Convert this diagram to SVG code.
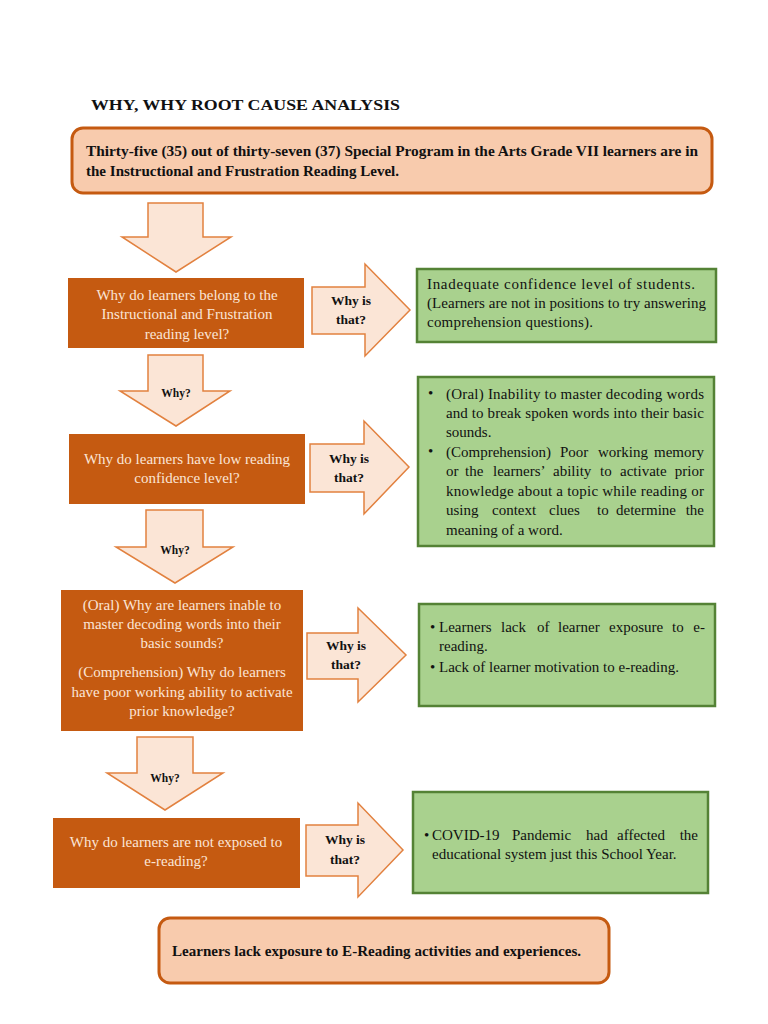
<svg xmlns="http://www.w3.org/2000/svg" width="768" height="1024" viewBox="0 0 768 1024">
<defs>
<style>
.title{font-family:"Liberation Serif","Times New Roman",serif;font-weight:bold;font-size:15px;fill:#111}
.top{fill:#F8CBAD;stroke:#C55A11;stroke-width:3}
.topt{font-family:"Liberation Serif","Times New Roman",serif;font-weight:bold;font-size:14.5px;fill:#111}
.botT{font-family:"Liberation Serif","Times New Roman",serif;font-weight:bold;font-size:14px;fill:#111}
.q{fill:#C55A11}
.qt{font-family:"Liberation Serif","Times New Roman",serif;font-size:15px;fill:#FBE5D6;text-anchor:middle}
.arr{fill:#FBE5D6;stroke:#E2813F;stroke-width:1.5;stroke-linejoin:miter}
.at{font-family:"Liberation Serif","Times New Roman",serif;font-weight:bold;font-size:13.5px;fill:#111;text-anchor:middle}
.wt{font-family:"Liberation Serif","Times New Roman",serif;font-weight:bold;font-size:11.5px;fill:#111;text-anchor:middle}
.g{fill:#A9D18E;stroke:#548235;stroke-width:2.5}
.gt{font-family:"Liberation Serif","Times New Roman",serif;font-size:15px;fill:#111}
.ge{font-family:"Liberation Serif","Times New Roman",serif;font-size:15px;fill:#111;text-anchor:end}
</style>
</defs>
<rect width="768" height="1024" fill="#ffffff"/>
<text class="title" x="91" y="110" textLength="309" lengthAdjust="spacingAndGlyphs">WHY, WHY ROOT CAUSE ANALYSIS</text>

<g id="connectors">
<polygon class="arr" points="148,203 203,203 203,237 231,237 176,272 122,237 148,237"/>
<polygon class="arr" points="148,355 203,355 203,391 230,391 176,426 120,391 148,391"/>
<polygon class="arr" points="146,510 203,510 203,547 233,547 175,583 116,547 146,547"/>
<polygon class="arr" points="137,737 193,737 193,773 223,773 165,810 107,773 137,773"/>
<polygon class="arr" points="312,287 365,287 365,264 410,310 365,356 365,334 312,334"/>
<polygon class="arr" points="310,444 364,444 364,421 409,467 364,514 364,492 310,492"/>
<polygon class="arr" points="307,633 358,633 358,608 406,655 358,702 358,679 307,679"/>
<polygon class="arr" points="306,825 358,825 358,803 403,850 358,897 358,876 306,876"/>
<text class="wt" x="176" y="397">Why?</text>
<text class="wt" x="175" y="554">Why?</text>
<text class="wt" x="165" y="782">Why?</text>
<text class="at" x="351" y="305">Why is</text>
<text class="at" x="351" y="324">that?</text>
<text class="at" x="349" y="463">Why is</text>
<text class="at" x="349" y="482">that?</text>
<text class="at" x="346" y="650">Why is</text>
<text class="at" x="346" y="669">that?</text>
<text class="at" x="345" y="844">Why is</text>
<text class="at" x="345" y="864">that?</text>
</g>

<g id="problem">
<rect class="top" x="72" y="128" width="640" height="65" rx="11"/>
<text class="topt" x="86" y="156" textLength="612" lengthAdjust="spacingAndGlyphs">Thirty-five (35) out of thirty-seven (37) Special Program in the Arts Grade VII learners are in</text>
<text class="topt" x="86" y="176" textLength="313" lengthAdjust="spacingAndGlyphs">the Instructional and Frustration Reading Level.</text>
</g>

<g id="why1">
<rect class="q" x="68" y="278" width="236" height="70"/>
<text class="qt" x="187" y="300">Why do learners belong to the</text>
<text class="qt" x="187" y="319">Instructional and Frustration</text>
<text class="qt" x="187" y="339">reading level?</text>
</g>
<g id="ans1">
<rect class="g" x="417" y="269" width="299" height="73"/>
<text class="gt" x="427" y="289" textLength="268" lengthAdjust="spacing">Inadequate confidence level of students.</text>
<text class="gt" x="427" y="308" textLength="279" lengthAdjust="spacing">(Learners are not in positions to try answering</text>
<text class="gt" x="427" y="327" textLength="166" lengthAdjust="spacing">comprehension questions).</text>
</g>

<g id="why2">
<rect class="q" x="69" y="434" width="236" height="70"/>
<text class="qt" x="187" y="464">Why do learners have low reading</text>
<text class="qt" x="187" y="483">confidence level?</text>
</g>
<g id="ans2">
<rect class="g" x="418" y="377" width="296" height="169"/>
<text class="gt" x="428" y="398">•</text>
<text class="gt" x="446" y="398.5" textLength="258" lengthAdjust="spacing">(Oral) Inability to master decoding words</text>
<text class="gt" x="446" y="418" textLength="258" lengthAdjust="spacing">and to break spoken words into their basic</text>
<text class="gt" x="446" y="437">sounds.</text>
<text class="gt" x="428" y="456">•</text>
<text class="gt" y="456.5"><tspan x="446">(Comprehension)</tspan><tspan x="560">Poor</tspan><tspan x="598">working</tspan></text>
<text class="ge" x="704" y="456.5">memory</text>
<text class="gt" y="476"><tspan x="446">or</tspan><tspan x="465">the</tspan><tspan x="493">learners’</tspan><tspan x="553">ability</tspan><tspan x="600">to</tspan><tspan x="620">activate</tspan></text>
<text class="ge" x="704" y="476">prior</text>
<text class="gt" x="446" y="495.5" textLength="258" lengthAdjust="spacing">knowledge about a topic while reading or</text>
<text class="gt" y="515"><tspan x="446">using</tspan><tspan x="492">context</tspan><tspan x="549">clues</tspan><tspan x="597">to</tspan><tspan x="616">determine</tspan></text>
<text class="ge" x="704" y="515">the</text>
<text class="gt" x="446" y="534.5">meaning of a word.</text>
</g>

<g id="why3">
<rect class="q" x="61" y="590" width="242" height="141"/>
<text class="qt" x="182" y="609.5">(Oral) Why are learners inable to</text>
<text class="qt" x="182" y="629">master decoding words into their</text>
<text class="qt" x="182" y="648">basic sounds?</text>
<text class="qt" x="182" y="677">(Comprehension) Why do learners</text>
<text class="qt" x="182" y="696.5">have poor working ability to activate</text>
<text class="qt" x="182" y="715.5">prior knowledge?</text>
</g>
<g id="ans3">
<rect class="g" x="419" y="604" width="296" height="102"/>
<text class="gt" x="430" y="632">•</text>
<text class="gt" y="632"><tspan x="439">Learners</tspan><tspan x="501">lack</tspan><tspan x="537">of</tspan><tspan x="558">learner</tspan><tspan x="609">exposure</tspan><tspan x="672">to</tspan></text>
<text class="ge" x="705" y="632">e-</text>
<text class="gt" x="439" y="651">reading.</text>
<text class="gt" x="430" y="672">•</text>
<text class="gt" x="439" y="672">Lack of learner motivation to e-reading.</text>
</g>

<g id="why4">
<rect class="q" x="53" y="818" width="247" height="70"/>
<text class="qt" x="176" y="847">Why do learners are not exposed to</text>
<text class="qt" x="176" y="866">e-reading?</text>
</g>
<g id="ans4">
<rect class="g" x="413" y="792" width="295" height="101"/>
<text class="gt" x="424" y="840">•</text>
<text class="gt" y="840"><tspan x="432">COVID-19</tspan><tspan x="512">Pandemic</tspan><tspan x="586">had</tspan><tspan x="617">affected</tspan></text>
<text class="ge" x="698" y="840">the</text>
<text class="gt" x="432" y="859">educational system just this School Year.</text>
</g>

<g id="conclusion">
<rect class="top" x="159" y="918" width="450" height="65" rx="11"/>
<text class="botT" x="172" y="956" textLength="409" lengthAdjust="spacingAndGlyphs">Learners lack exposure to E-Reading activities and experiences.</text>
</g>
</svg>
